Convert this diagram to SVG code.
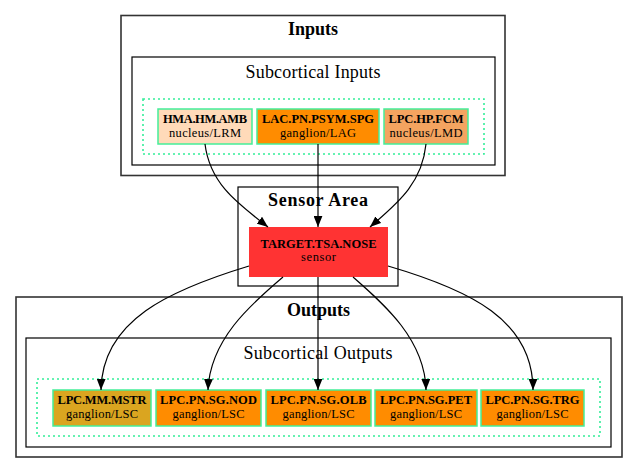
<svg xmlns="http://www.w3.org/2000/svg" width="637" height="473" viewBox="0 0 637 473">
<defs>
<style>
text{font-family:"Liberation Serif","Times New Roman",serif;fill:#000;text-anchor:middle}
.title{font-size:18px;font-weight:bold}
.sub{font-size:18px}
.nb{font-size:12.5px;font-weight:bold}
.nr{font-size:12.5px}
.outer{fill:none;stroke:#333;stroke-width:1.6}
.inner{fill:none;stroke:#000;stroke-width:1.2}
.dot{fill:none;stroke:#33ee99;stroke-width:1.6;stroke-dasharray:2,3}
.node{stroke:#44ee99;stroke-width:1.5}
.edge{fill:none;stroke:#000;stroke-width:1.2}
</style>
<marker id="arr" viewBox="0 0 10 8" refX="10" refY="4" markerWidth="11" markerHeight="9" markerUnits="userSpaceOnUse" orient="auto">
<path d="M0,0 L10,4 L0,8 Z" fill="#000"/>
</marker>
</defs>
<rect width="637" height="473" fill="#fff"/>

<g id="cluster-inputs">
<rect class="outer" x="121" y="15.5" width="384" height="160"/>
<text class="title" x="313" y="35" textLength="50">Inputs</text>
<rect class="inner" x="132" y="57" width="363" height="108"/>
<text class="sub" x="313" y="78" textLength="135">Subcortical Inputs</text>
<rect class="dot" x="143" y="99" width="341" height="55"/>
</g>

<g id="cluster-sensor">
<rect class="inner" x="238" y="187" width="160" height="99"/>
<text class="title" x="318" y="206" textLength="100">Sensor Area</text>
</g>

<g id="cluster-outputs">
<rect class="outer" x="16" y="297" width="606" height="160"/>
<text class="title" x="318.5" y="316" textLength="63">Outputs</text>
<rect class="inner" x="26" y="338" width="585" height="109"/>
<text class="sub" x="318" y="359" textLength="149">Subcortical Outputs</text>
<rect class="dot" x="37" y="379" width="563" height="57"/>
</g>

<g id="node-HMA.HM.AMB">
<rect class="node" x="158" y="109" width="94" height="35" fill="#ffdab9"/>
<text class="nb" x="205" y="123" textLength="84">HMA.HM.AMB</text>
<text class="nr" x="205" y="137" textLength="72">nucleus/LRM</text>
</g>
<g id="node-LAC.PN.PSYM.SPG">
<rect class="node" x="257" y="109" width="122" height="35" fill="#ff8c00"/>
<text class="nb" x="318" y="123" textLength="112">LAC.PN.PSYM.SPG</text>
<text class="nr" x="318" y="137" textLength="76">ganglion/LAG</text>
</g>
<g id="node-LPC.HP.FCM">
<rect class="node" x="384" y="109" width="84" height="35" fill="#f4a460"/>
<text class="nb" x="426" y="123" textLength="75">LPC.HP.FCM</text>
<text class="nr" x="426" y="137" textLength="73">nucleus/LMD</text>
</g>

<g id="node-TARGET.TSA.NOSE">
<rect x="249" y="227" width="139" height="50" fill="#ff3333"/>
<text class="nb" x="318.5" y="248" textLength="116">TARGET.TSA.NOSE</text>
<text class="nr" x="318.5" y="261" textLength="35">sensor</text>
</g>

<g id="node-LPC.MM.MSTR">
<rect class="node" x="53" y="390" width="98" height="36" fill="#daa520"/>
<text class="nb" x="102" y="404" textLength="89">LPC.MM.MSTR</text>
<text class="nr" x="102" y="418" textLength="72">ganglion/LSC</text>
</g>
<g id="node-LPC.PN.SG.NOD">
<rect class="node" x="156" y="390" width="105" height="36" fill="#ff8c00"/>
<text class="nb" x="208.5" y="404" textLength="97">LPC.PN.SG.NOD</text>
<text class="nr" x="208.5" y="418" textLength="72">ganglion/LSC</text>
</g>
<g id="node-LPC.PN.SG.OLB">
<rect class="node" x="266" y="390" width="105" height="36" fill="#ff8c00"/>
<text class="nb" x="318.5" y="404" textLength="96">LPC.PN.SG.OLB</text>
<text class="nr" x="318.5" y="418" textLength="72">ganglion/LSC</text>
</g>
<g id="node-LPC.PN.SG.PET">
<rect class="node" x="375" y="390" width="102" height="36" fill="#ff8c00"/>
<text class="nb" x="426" y="404" textLength="92">LPC.PN.SG.PET</text>
<text class="nr" x="426" y="418" textLength="72">ganglion/LSC</text>
</g>
<g id="node-LPC.PN.SG.TRG">
<rect class="node" x="481" y="390" width="103" height="36" fill="#ff8c00"/>
<text class="nb" x="532.5" y="404" textLength="94">LPC.PN.SG.TRG</text>
<text class="nr" x="532.5" y="418" textLength="72">ganglion/LSC</text>
</g>

<g id="edges">
<path class="edge" marker-end="url(#arr)" d="M205,144 C210,185 240,205 268,227"/>
<path class="edge" marker-end="url(#arr)" d="M318,144 L318,227"/>
<path class="edge" marker-end="url(#arr)" d="M426,144 C422,185 395,205 370,227"/>
<path class="edge" marker-end="url(#arr)" d="M249,266 C170,290 102,320 101,390"/>
<path class="edge" marker-end="url(#arr)" d="M283,277 C250,305 210,340 208,390"/>
<path class="edge" marker-end="url(#arr)" d="M318,277 L318,390"/>
<path class="edge" marker-end="url(#arr)" d="M353,277 C385,305 425,340 426,390"/>
<path class="edge" marker-end="url(#arr)" d="M388,266 C470,290 533,320 533,390"/>
</g>
</svg>
